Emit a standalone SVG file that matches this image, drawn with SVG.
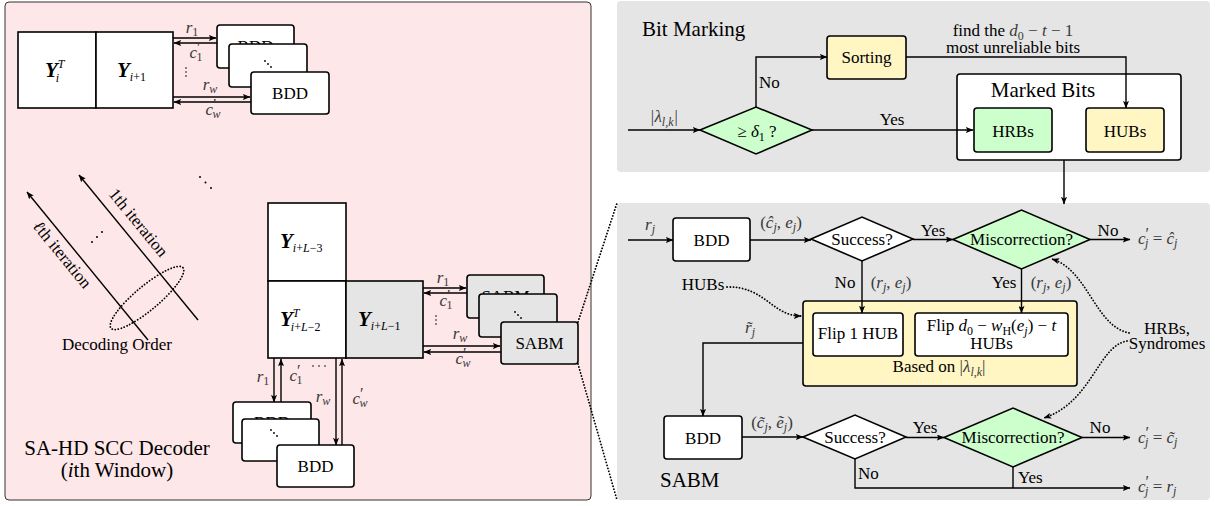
<svg xmlns="http://www.w3.org/2000/svg" width="1215" height="506" viewBox="0 0 1215 506">
<defs>
<style>
text { font-family: "Liberation Serif", "Times New Roman", serif; font-size: 17px; fill: #000; }
.m { font-style: italic; fill: #3a3a3a; }
.it { font-style: italic; }
.n { font-style: normal; }
.h { font-size: 21px; }
.c { text-anchor: middle; }
.s { font-size: 12px; }
.p { font-size: 16px; font-style: normal; }
.yb { font-weight: bold; font-style: italic; font-size: 21px; fill: #000; }
.box { fill: #fff; stroke: #000; stroke-width: 1.6; }
.gbox { fill: #e5e5e5; stroke: #000; stroke-width: 1.6; }
.grn { fill: #ccffcc; stroke: #000; stroke-width: 1.6; }
.yel { fill: #fff6c4; stroke: #000; stroke-width: 1.6; }
.ln { fill: none; stroke: #000; stroke-width: 1.4; }
.arr { marker-end: url(#ah); }
.dot { fill: none; stroke: #000; stroke-width: 1.8; stroke-dasharray: 0.1 3; stroke-linecap: round; }
.d { fill: #000; }
</style>
<marker id="ah" viewBox="0 0 10 8" refX="9.5" refY="4" markerWidth="8" markerHeight="6" orient="auto" markerUnits="userSpaceOnUse">
<path d="M0,0 L10,4 L0,8 L2,4 z" fill="#000"/>
</marker>
</defs>

<!-- panels -->
<g id="panel-left">
<rect x="5" y="2" width="586" height="498" rx="4" fill="#fde7e8" stroke="#333" stroke-width="1"/>
<text class="h c" x="117" y="455">SA-HD SCC Decoder</text>
<text class="h c" x="117" y="477">(<tspan class="it">i</tspan>th Window)</text>
</g>
<g id="panel-bitmarking">
<rect x="617" y="1" width="593" height="171" rx="4" fill="#e5e5e5"/>
<text x="642" y="36" class="h">Bit Marking</text>
</g>
<g id="panel-sabm">
<rect x="617" y="203" width="593" height="297" rx="4" fill="#e5e5e5"/>
<text x="660" y="487" class="h">SABM</text>
</g>

<!-- top-left matrices -->
<g id="mat-Yi">
<rect class="box" x="18" y="32" width="78" height="76"/>
<text x="45" y="77"><tspan class="yb">Y</tspan><tspan class="s it" dy="-9">T</tspan><tspan class="s it" dx="-8" dy="14">i</tspan></text>
</g>
<g id="mat-Yi1">
<rect class="box" x="96" y="32" width="77" height="76"/>
<text x="117" y="77"><tspan class="yb">Y</tspan><tspan class="s" dy="4"><tspan class="it">i</tspan>+1</tspan></text>
</g>

<!-- top BDD stack -->
<g id="bdd-top-1">
<rect class="box" x="217" y="25" width="77" height="43" rx="3"/>
<text class="c" x="255.5" y="52">BDD</text>
</g>
<g id="bdd-top-2">
<rect class="box" x="229" y="44" width="78" height="43" rx="3"/>
<circle class="d" cx="265" cy="61" r="0.9"/><circle class="d" cx="268" cy="64" r="0.9"/><circle class="d" cx="271" cy="67" r="0.9"/>
</g>
<g id="bdd-top-3">
<rect class="box" x="251" y="72" width="78" height="42" rx="3"/>
<text class="c" x="290" y="99">BDD</text>
</g>

<!-- middle matrices -->
<g id="mat-YL3">
<rect class="box" x="268" y="203" width="78" height="78"/>
<text x="280" y="248"><tspan class="yb">Y</tspan><tspan class="s" dy="4"><tspan class="it">i</tspan>+<tspan class="it">L</tspan>−3</tspan></text>
</g>
<g id="mat-YL2">
<rect class="box" x="268" y="281" width="78" height="77"/>
<text x="280" y="326"><tspan class="yb">Y</tspan><tspan class="s it" dy="-9">T</tspan><tspan class="s" dx="-8" dy="14"><tspan class="it">i</tspan>+<tspan class="it">L</tspan>−2</tspan></text>
</g>
<g id="mat-YL1">
<rect class="gbox" x="346" y="281" width="77" height="77"/>
<text x="358" y="326"><tspan class="yb">Y</tspan><tspan class="s" dy="4"><tspan class="it">i</tspan>+<tspan class="it">L</tspan>−1</tspan></text>
</g>

<!-- SABM stack -->
<g id="sabm-1">
<rect class="gbox" x="467" y="275" width="77" height="43" rx="3"/>
<text class="c" x="505.5" y="302">SABM</text>
</g>
<g id="sabm-2">
<rect class="gbox" x="479" y="294" width="78" height="43" rx="3"/>
<circle class="d" cx="515" cy="312" r="0.9"/><circle class="d" cx="518" cy="315" r="0.9"/><circle class="d" cx="521" cy="318" r="0.9"/>
</g>
<g id="sabm-3">
<rect class="gbox" x="501" y="322" width="77" height="42" rx="3"/>
<text class="c" x="539.5" y="349">SABM</text>
</g>

<!-- bottom BDD stack -->
<g id="bdd-bot-1">
<rect class="box" x="233" y="402" width="78" height="41" rx="3"/>
<text class="c" x="272" y="428">BDD</text>
</g>
<g id="bdd-bot-2">
<rect class="box" x="242" y="419" width="77" height="42" rx="3"/>
<circle class="d" cx="271" cy="430" r="0.9"/><circle class="d" cx="274" cy="433" r="0.9"/><circle class="d" cx="277" cy="436" r="0.9"/>
</g>
<g id="bdd-bot-3">
<rect class="box" x="277" y="445" width="77" height="42" rx="3"/>
<text class="c" x="315.5" y="472">BDD</text>
</g>

<!-- decoding order -->
<g id="decoding-order">
<ellipse class="dot" cx="147" cy="298" rx="47" ry="12" transform="rotate(-40 147 298)"/>
<text class="c" x="117" y="350">Decoding Order</text>
<text class="c" transform="translate(138 223) rotate(50.6)" x="0" y="5">1th iteration</text>
<text class="c" transform="translate(62 255) rotate(50.6)" x="0" y="5"><tspan class="it">ℓ</tspan>th iteration</text>
<circle class="d" cx="92" cy="242" r="1"/><circle class="d" cx="97" cy="237" r="1"/><circle class="d" cx="102" cy="232" r="1"/>
<circle class="d" cx="200" cy="177" r="1"/><circle class="d" cx="205.5" cy="182.5" r="1"/><circle class="d" cx="211" cy="188" r="1"/>
</g>

<!-- right: bit marking nodes -->
<g id="sorting">
<rect class="yel" x="827" y="36" width="79" height="43" rx="3"/>
<text class="c" x="866.5" y="63">Sorting</text>
</g>
<g id="thresh">
<polygon class="grn" points="700,130 756,107 812,130 756,154"/>
<text class="c" x="757" y="137" fill="#3a3a3a">≥ <tspan class="it">δ</tspan><tspan class="s" dy="4">1</tspan><tspan dy="-4"> ?</tspan></text>
</g>
<g id="marked-bits">
<rect class="box" x="957" y="74" width="224" height="86" rx="3"/>
<text class="h c" x="1043" y="97">Marked Bits</text>
</g>
<g id="hrbs">
<rect class="grn" x="974" y="108" width="78" height="44" rx="3"/>
<text class="c" x="1013" y="137">HRBs</text>
</g>
<g id="hubs">
<rect class="yel" x="1086" y="108" width="78" height="44" rx="3"/>
<text class="c" x="1125" y="137">HUBs</text>
</g>

<!-- right: SABM nodes -->
<g id="bdd-a">
<rect class="box" x="673" y="218" width="77" height="43" rx="3"/>
<text class="c" x="711.5" y="246">BDD</text>
</g>
<g id="success-a">
<polygon class="box" points="811,239 862,217 913,239 862,261"/>
<text class="c" x="862" y="245">Success?</text>
</g>
<g id="misc-a">
<polygon class="grn" points="953,239.5 1021.5,210 1090,239.5 1021.5,269"/>
<text class="c" x="1021.5" y="245">Miscorrection?</text>
</g>
<g id="flip-group">
<rect class="yel" x="803" y="301" width="274" height="85" rx="3"/>
<text class="c" x="939" y="372">Based on <tspan fill="#3a3a3a">|<tspan class="it">λ</tspan><tspan class="s it" dy="4">l,k</tspan><tspan dy="-4">|</tspan></tspan></text>
</g>
<g id="flip-1">
<rect class="box" x="813" y="313" width="90" height="43" rx="3"/>
<text class="c" x="858" y="339">Flip 1 HUB</text>
</g>
<g id="flip-2">
<rect class="box" x="915" y="313" width="153" height="43" rx="3"/>
<text class="c" x="991.5" y="331">Flip <tspan class="it">d</tspan><tspan class="s" dy="4">0</tspan><tspan dy="-4"> − </tspan><tspan class="it">w</tspan><tspan class="s" dy="4">H</tspan><tspan dy="-4">(</tspan><tspan class="it">e</tspan><tspan class="s it" dy="4">j</tspan><tspan dy="-4">) − </tspan><tspan class="it">t</tspan></text>
<text class="c" x="991.5" y="349">HUBs</text>
</g>
<g id="bdd-b">
<rect class="box" x="664" y="416" width="78" height="43" rx="3"/>
<text class="c" x="703" y="444">BDD</text>
</g>
<g id="success-b">
<polygon class="box" points="803,437 855,415 906,437 855,459"/>
<text class="c" x="855" y="443">Success?</text>
</g>
<g id="misc-b">
<polygon class="grn" points="944,437.5 1013,408 1082,437.5 1013,467"/>
<text class="c" x="1013" y="443">Miscorrection?</text>
</g>
<g id="side-labels">
<text class="c" x="703" y="290">HUBs</text>
<text class="c" x="1167" y="334">HRBs,</text>
<text class="c" x="1167" y="349">Syndromes</text>
</g>

<!-- connectors -->
<g id="connectors">
<!-- top-left -->
<line class="ln arr" x1="173" y1="38" x2="216" y2="38"/>
<line class="ln arr" x1="217" y1="43" x2="174" y2="43"/>
<line class="ln arr" x1="173" y1="97" x2="250" y2="97"/>
<line class="ln arr" x1="251" y1="102" x2="174" y2="102"/>
<text class="m c" x="192" y="33">r<tspan class="s n" dy="3">1</tspan></text>
<text class="m c" x="196" y="58">c<tspan class="p" dy="-5">′</tspan><tspan class="s n" dx="-4" dy="8">1</tspan></text>
<circle class="d" cx="186" cy="68" r="0.8"/><circle class="d" cx="186" cy="72" r="0.8"/><circle class="d" cx="186" cy="76" r="0.8"/>
<text class="m c" x="210" y="90">r<tspan class="s" dy="3">w</tspan></text>
<text class="m c" x="213" y="115">c<tspan class="p" dy="-5">′</tspan><tspan class="s" dx="-4" dy="8">w</tspan></text>
<!-- diagonal arrows -->
<line class="ln arr" x1="198" y1="320" x2="79" y2="175"/>
<line class="ln arr" x1="148" y1="340" x2="27" y2="192"/>
<!-- middle -->
<line class="ln arr" x1="423" y1="288" x2="466" y2="288"/>
<line class="ln arr" x1="467" y1="293" x2="424" y2="293"/>
<line class="ln arr" x1="423" y1="346" x2="500" y2="346"/>
<line class="ln arr" x1="501" y1="352" x2="424" y2="352"/>
<text class="m c" x="443" y="283">r<tspan class="s n" dy="3">1</tspan></text>
<text class="m c" x="446" y="306">c<tspan class="p" dy="-5">′</tspan><tspan class="s n" dx="-4" dy="8">1</tspan></text>
<circle class="d" cx="436" cy="316" r="0.8"/><circle class="d" cx="436" cy="320" r="0.8"/><circle class="d" cx="436" cy="324" r="0.8"/>
<text class="m c" x="460" y="339">r<tspan class="s" dy="3">w</tspan></text>
<text class="m c" x="463" y="364">c<tspan class="p" dy="-5">′</tspan><tspan class="s" dx="-4" dy="8">w</tspan></text>
<!-- bottom -->
<line class="ln arr" x1="274" y1="358" x2="274" y2="402"/>
<line class="ln arr" x1="281" y1="402" x2="281" y2="359"/>
<line class="ln arr" x1="336" y1="358" x2="336" y2="445"/>
<line class="ln arr" x1="342" y1="445" x2="342" y2="359"/>
<text class="m c" x="263" y="382">r<tspan class="s n" dy="3">1</tspan></text>
<text class="m c" x="296" y="381">c<tspan class="p" dy="-5">′</tspan><tspan class="s n" dx="-4" dy="8">1</tspan></text>
<circle class="d" cx="313" cy="366" r="0.8"/><circle class="d" cx="319" cy="366" r="0.8"/><circle class="d" cx="325" cy="366" r="0.8"/>
<text class="m c" x="323" y="402">r<tspan class="s" dy="3">w</tspan></text>
<text class="m c" x="360" y="404">c<tspan class="p" dy="-5">′</tspan><tspan class="s" dx="-4" dy="8">w</tspan></text>
<!-- zoom lines -->
<line class="dot" x1="578" y1="322" x2="617" y2="203"/>
<line class="dot" x1="578" y1="364" x2="617" y2="500"/>

<!-- bit marking -->
<line class="ln arr" x1="628" y1="130" x2="700" y2="130"/>
<text class="m c" x="664" y="122">|λ<tspan class="s" dy="4">l,k</tspan><tspan dy="-4">|</tspan></text>
<polyline class="ln arr" points="756,107 756,57 827,57"/>
<text x="759" y="88">No</text>
<line class="ln arr" x1="812" y1="130" x2="973" y2="130"/>
<text class="c" x="892" y="125">Yes</text>
<polyline class="ln arr" points="906,57 1126,57 1126,108"/>
<text class="c" x="1013" y="36">find the <tspan class="it" fill="#3a3a3a">d</tspan><tspan class="s" dy="4" fill="#3a3a3a">0</tspan><tspan dy="-4" fill="#3a3a3a"> − <tspan class="it">t</tspan> − 1</tspan></text>
<text class="c" x="1013" y="53">most unreliable bits</text>
<line class="ln arr" x1="1064" y1="160" x2="1064" y2="204"/>

<!-- SABM flow -->
<line class="ln arr" x1="628" y1="240" x2="673" y2="240"/>
<text class="m c" x="650" y="230">r<tspan class="s" dy="3">j</tspan></text>
<line class="ln arr" x1="750" y1="240" x2="811" y2="240"/>
<text class="m c" x="781" y="228"><tspan class="n">(</tspan>ĉ<tspan class="s" dy="3">j</tspan><tspan class="n" dy="-3">, </tspan>e<tspan class="s" dy="3">j</tspan><tspan class="n" dy="-3">)</tspan></text>
<line class="ln arr" x1="913" y1="239.5" x2="953" y2="239.5"/>
<text class="c" x="933" y="236">Yes</text>
<line class="ln arr" x1="1090" y1="239.5" x2="1130" y2="239.5"/>
<text class="c" x="1108" y="236">No</text>
<text class="m" x="1138" y="244">c<tspan class="p" dy="-5">′</tspan><tspan class="s" dx="-4" dy="8">j</tspan><tspan class="n" dy="-3"> = </tspan>ĉ<tspan class="s" dy="3">j</tspan></text>
<line class="ln arr" x1="862" y1="261" x2="862" y2="313"/>
<text class="c" x="845" y="288">No</text>
<text class="m c" x="891" y="288"><tspan class="n">(</tspan>r<tspan class="s" dy="3">j</tspan><tspan class="n" dy="-3">, </tspan>e<tspan class="s" dy="3">j</tspan><tspan class="n" dy="-3">)</tspan></text>
<line class="ln arr" x1="1021.5" y1="269" x2="1021.5" y2="313"/>
<text class="c" x="1004" y="288">Yes</text>
<text class="m c" x="1051" y="288"><tspan class="n">(</tspan>r<tspan class="s" dy="3">j</tspan><tspan class="n" dy="-3">, </tspan>e<tspan class="s" dy="3">j</tspan><tspan class="n" dy="-3">)</tspan></text>
<path class="dot arr" d="M727,287 C765,286 772,316 801,316"/>
<path class="dot arr" d="M1129,333 C1095,326 1088,270 1052,259"/>
<path class="dot arr" d="M1127,341 C1098,346 1092,402 1044,418"/>
<polyline class="ln arr" points="803,343 703,343 703,416"/>
<text class="m c" x="750" y="333">r̃<tspan class="s" dy="3">j</tspan></text>
<line class="ln arr" x1="742" y1="437" x2="803" y2="437"/>
<text class="m c" x="772" y="428"><tspan class="n">(</tspan>c̃<tspan class="s" dy="3">j</tspan><tspan class="n" dy="-3">, </tspan>ẽ<tspan class="s" dy="3">j</tspan><tspan class="n" dy="-3">)</tspan></text>
<line class="ln arr" x1="906" y1="437.5" x2="944" y2="437.5"/>
<text class="c" x="925" y="433">Yes</text>
<line class="ln arr" x1="1082" y1="437.5" x2="1130" y2="437.5"/>
<text class="c" x="1100" y="433">No</text>
<text class="m" x="1138" y="443">c<tspan class="p" dy="-5">′</tspan><tspan class="s" dx="-4" dy="8">j</tspan><tspan class="n" dy="-3"> = </tspan>c̃<tspan class="s" dy="3">j</tspan></text>
<polyline class="ln arr" points="855,459 855,488 1130,488"/>
<text x="858" y="479">No</text>
<line class="ln" x1="1013" y1="467" x2="1013" y2="488"/>
<text x="1018" y="483">Yes</text>
<text class="m" x="1138" y="492">c<tspan class="p" dy="-5">′</tspan><tspan class="s" dx="-4" dy="8">j</tspan><tspan class="n" dy="-3"> = </tspan>r<tspan class="s" dy="3">j</tspan></text>
</g>
</svg>
